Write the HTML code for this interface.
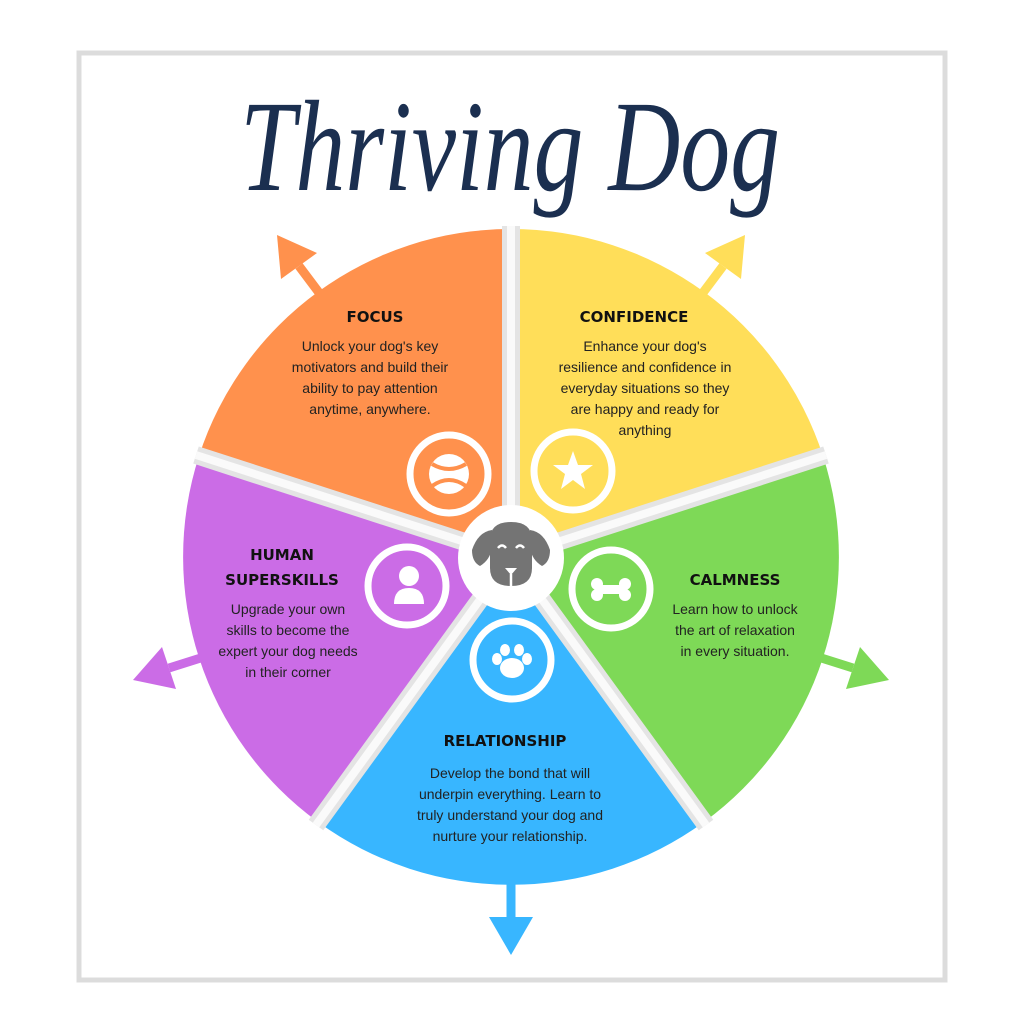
<!DOCTYPE html>
<html><head><meta charset="utf-8"><style>
html,body{margin:0;padding:0;background:#fff;}
svg{display:block;}
.t{font-family:"DejaVu Sans","Liberation Sans",sans-serif;font-weight:bold;font-size:15px;fill:#111;text-anchor:middle;}
.b{font-family:"Liberation Sans",sans-serif;font-size:14px;fill:#222;text-anchor:middle;}
</style></head><body>
<svg width="1024" height="1024" viewBox="0 0 1024 1024" xmlns="http://www.w3.org/2000/svg">
<rect x="0" y="0" width="1024" height="1024" fill="#fff"/>
<rect x="79" y="53" width="866" height="927" fill="none" stroke="#dcdcdc" stroke-width="5"/>
<text x="240" y="190" textLength="540" lengthAdjust="spacingAndGlyphs" font-family="'Liberation Serif',serif" font-style="italic" font-size="130" fill="#1b2f50">Thriving Dog</text>
<!-- arrows -->
<g stroke-width="9">
<line x1="335" y1="314" x2="299" y2="266" stroke="#FF914D"/><polygon points="277,235 317,253 281,279" fill="#FF914D"/>
<line x1="687" y1="314" x2="723" y2="266" stroke="#FFDE59"/><polygon points="745,235 741,279 705,253" fill="#FFDE59"/>
<line x1="796" y1="650" x2="853" y2="668" stroke="#7ED957"/><polygon points="889,680 846,689 860,647" fill="#7ED957"/>
<line x1="511" y1="857" x2="511" y2="917" stroke="#38B6FF"/><polygon points="511,955 489,917 533,917" fill="#38B6FF"/>
<line x1="226" y1="650" x2="169" y2="668" stroke="#CB6CE6"/><polygon points="133,680 162,647 176,689" fill="#CB6CE6"/>
</g>
<!-- wedges -->
<path d="M511,557 L199,456 A328,328 0 0 1 511,229 Z" fill="#FF914D"/>
<path d="M511,557 L511,229 A328,328 0 0 1 823,456 Z" fill="#FFDE59"/>
<path d="M511,557 L823,456 A328,328 0 0 1 704,822 Z" fill="#7ED957"/>
<path d="M511,557 L704,822 A328,328 0 0 1 318,822 Z" fill="#38B6FF"/>
<path d="M511,557 L318,822 A328,328 0 0 1 199,456 Z" fill="#CB6CE6"/>
<g stroke-width="18" stroke="#e4e4e4">
<line x1="511" y1="557" x2="511" y2="226"/><line x1="511" y1="557" x2="826" y2="455"/><line x1="511" y1="557" x2="706" y2="825"/><line x1="511" y1="557" x2="316" y2="825"/><line x1="511" y1="557" x2="196" y2="455"/>
</g>
<g stroke-width="8" stroke="#fafafa">
<line x1="511" y1="557" x2="511" y2="226"/><line x1="511" y1="557" x2="826" y2="455"/><line x1="511" y1="557" x2="706" y2="825"/><line x1="511" y1="557" x2="316" y2="825"/><line x1="511" y1="557" x2="196" y2="455"/>
</g>
<!-- icon rings -->
<g fill="none" stroke="#fff" stroke-width="7">
<circle cx="449" cy="474" r="39"/><circle cx="573" cy="471" r="39"/><circle cx="611" cy="589" r="39"/><circle cx="512" cy="660" r="39"/><circle cx="407" cy="586" r="39"/>
</g>
<g fill="#fff">
<circle cx="449" cy="474" r="20"/>
<path d="M432,464 Q449,474 466,464" stroke="#FF914D" stroke-width="4" fill="none"/>
<path d="M432,486 Q449,474 466,486" stroke="#FF914D" stroke-width="4" fill="none"/>
<polygon points="573,451 578,465 593,465 581,474 585,489 573,480 561,489 565,474 553,465 568,465"/>
<rect x="598" y="585" width="26" height="9" rx="3"/>
<circle cx="597" cy="584" r="6"/><circle cx="597" cy="595" r="6"/><circle cx="625" cy="584" r="6"/><circle cx="625" cy="595" r="6"/>
<ellipse cx="512" cy="668" rx="12" ry="10"/><ellipse cx="497" cy="659" rx="5" ry="6"/><ellipse cx="505" cy="650" rx="5" ry="6"/><ellipse cx="519" cy="650" rx="5" ry="6"/><ellipse cx="527" cy="659" rx="5" ry="6"/>
<circle cx="409" cy="576" r="10"/><path d="M394,604 Q394,588 409,588 Q424,588 424,604 Z"/>
</g>
<!-- center -->
<circle cx="511" cy="558" r="53" fill="#fff"/>
<g fill="#747474">
<path d="M490,540 Q490,522 511,522 Q532,522 532,540 L532,568 Q532,586 511,586 Q490,586 490,568 Z"/>
<path d="M492,530 Q478,532 472,550 Q472,562 480,566 Q490,560 492,548 Z"/>
<path d="M530,530 Q544,532 550,550 Q550,562 542,566 Q532,560 530,548 Z"/>
</g>
<g stroke="#fff" stroke-width="2.5" fill="none"><path d="M498,548 Q502,543 506,548"/><path d="M516,548 Q520,543 524,548"/><line x1="511" y1="574" x2="511" y2="587"/></g>
<path d="M505,568 L517,568 L511,575 Z" fill="#fff"/>
<!-- texts -->
<text class="t" x="375" y="322">FOCUS</text>
<text class="b"><tspan x="370" y="351">Unlock your dog's key</tspan><tspan x="370" y="372">motivators and build their</tspan><tspan x="370" y="393">ability to pay attention</tspan><tspan x="370" y="414">anytime, anywhere.</tspan></text>
<text class="t" x="634" y="322">CONFIDENCE</text>
<text class="b"><tspan x="645" y="351">Enhance your dog's</tspan><tspan x="645" y="372">resilience and confidence in</tspan><tspan x="645" y="393">everyday situations so they</tspan><tspan x="645" y="414">are happy and ready for</tspan><tspan x="645" y="435">anything</tspan></text>
<text class="t" x="282" y="560">HUMAN</text><text class="t" x="282" y="585">SUPERSKILLS</text>
<text class="b"><tspan x="288" y="614">Upgrade your own</tspan><tspan x="288" y="635">skills to become the</tspan><tspan x="288" y="656">expert your dog needs</tspan><tspan x="288" y="677">in their corner</tspan></text>
<text class="t" x="735" y="585">CALMNESS</text>
<text class="b"><tspan x="735" y="614">Learn how to unlock</tspan><tspan x="735" y="635">the art of relaxation</tspan><tspan x="735" y="656">in every situation.</tspan></text>
<text class="t" x="505" y="746">RELATIONSHIP</text>
<text class="b"><tspan x="510" y="778">Develop the bond that will</tspan><tspan x="510" y="799">underpin everything. Learn to</tspan><tspan x="510" y="820">truly understand your dog and</tspan><tspan x="510" y="841">nurture your relationship.</tspan></text>
</svg>
</body></html>
